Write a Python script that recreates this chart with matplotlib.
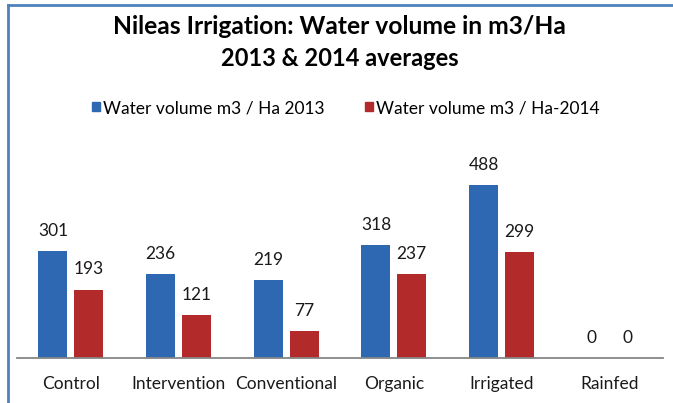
import matplotlib.pyplot as plt
from matplotlib.lines import Line2D
import numpy as np

categories = ['Control', 'Intervention', 'Conventional', 'Organic', 'Irrigated', 'Rainfed']
vol_2013 = [301, 236, 219, 318, 488, 0]
vol_2014 = [193, 121, 77, 237, 299, 0]
series_names = ['Water volume m3 / Ha 2013', 'Water volume m3 / Ha-2014']

blue = '#2E68B2'
red = '#B22A2A'
font = ['Lato', 'DejaVu Sans']

fig = plt.figure(figsize=(6.73, 4.03), dpi=100)
ax = fig.add_axes([17 / 673, 45 / 403, 646 / 673, 208 / 403])

x = np.arange(len(categories))
w = 0.27
off = 0.166
b1 = ax.bar(x - off, vol_2013, w, color=blue, label=series_names[0])
b2 = ax.bar(x + off, vol_2014, w, color=red, label=series_names[1])

for bars, vals in [(b1, vol_2013), (b2, vol_2014)]:
    for b, v in zip(bars, vals):
        ax.annotate(str(v), (b.get_x() + b.get_width() / 2, v),
                    xytext=(0, 14.5), textcoords='offset points',
                    ha='center', va='center', fontsize=12.5,
                    color='#1a1a1a', family=font)

ax.set_xlim(-0.5, len(categories) - 0.5)
ax.set_ylim(0, 587)
ax.set_xticks(x)
ax.set_xticklabels(categories, fontsize=12.5, family=font, color='#1a1a1a')
ax.tick_params(axis='x', length=0, pad=13)
ax.set_yticks([])
for s in ['top', 'right', 'left']:
    ax.spines[s].set_visible(False)
ax.spines['bottom'].set_color('#868686')
ax.spines['bottom'].set_linewidth(1.3)

# titles
fig.text(339 / 673, 1 - 26 / 403, 'Nileas Irrigation: Water volume in m3/Ha',
         ha='center', va='center', fontsize=17.7, fontweight='bold', family=font)
fig.text(340 / 673, 1 - 58 / 403, '2013 & 2014 averages',
         ha='center', va='center', fontsize=17, fontweight='bold', family=font)

# legend
handles = [plt.Rectangle((0, 0), 1, 1, color=blue), plt.Rectangle((0, 0), 1, 1, color=red)]
fig.legend(handles, series_names, loc='center', bbox_to_anchor=(346 / 673, 1 - 108 / 403),
           ncol=2, frameon=False, prop={'family': font, 'size': 12.5},
           handlelength=0.45, handleheight=0.45, handletextpad=0.2, columnspacing=2.3)

# chart border
fig.add_artist(Line2D([8 / 673, 8 / 673], [0, 1 - 5 / 403], transform=fig.transFigure,
                      color='#4F81BD', lw=2))
fig.add_artist(Line2D([8 / 673, 1], [1 - 5 / 403, 1 - 5 / 403], transform=fig.transFigure,
                      color='#4F81BD', lw=2))

plt.savefig('out.png', dpi=100)
